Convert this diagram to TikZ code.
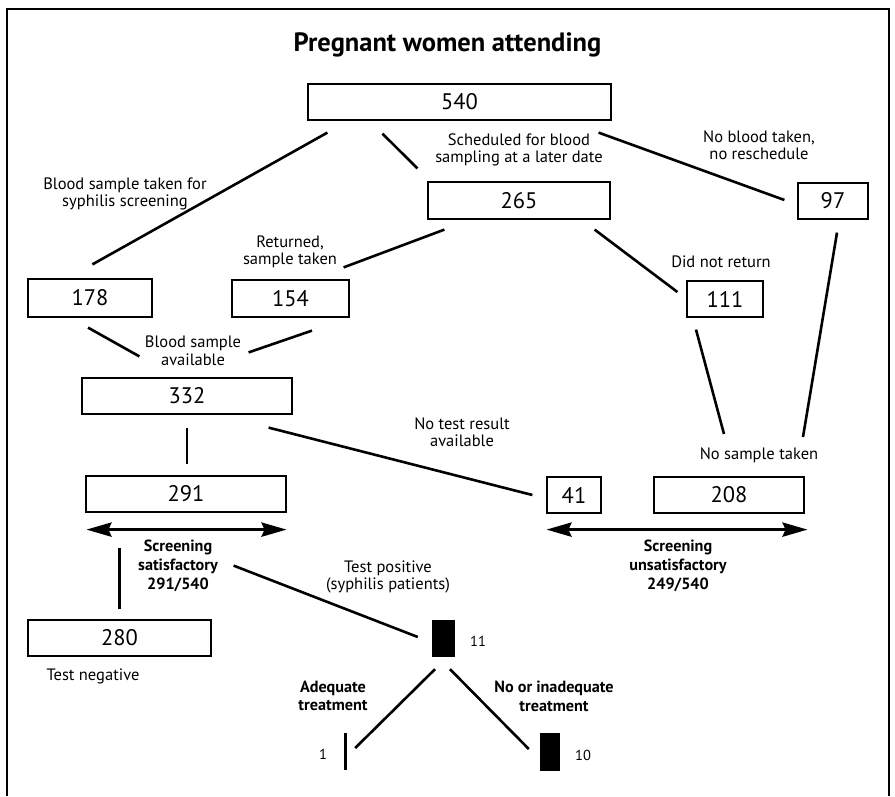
\documentclass[tikz,border=0pt]{standalone}
\usepackage{fontspec}
\setmainfont{PT Sans}
\usetikzlibrary{arrows.meta}
\begin{document}
\begin{tikzpicture}[x=1pt,y=-1pt,
  numbox/.style={draw, line width=1.2pt, inner sep=0pt, font={\fontsize{22.5}{24}\selectfont}},
  blk/.style={fill=black, draw=none, inner sep=0pt},
  lbl/.style={align=center, inner sep=0pt, font={\fontsize{16.5}{17.5}\selectfont}},
  blbl/.style={align=center, inner sep=0pt, font={\bfseries\fontsize{16.2}{18.7}\selectfont}},
  small/.style={inner sep=0pt, font={\fontsize{14.5}{16}\selectfont}},
  conn/.style={line width=2.6pt},
  dblarrow/.style={line width=3.6pt, {Stealth[length=25pt,width=14pt,inset=3pt]}-{Stealth[length=25pt,width=14pt,inset=3pt]}}
]
\useasboundingbox (0,0) rectangle (895,796);
% frame
\draw[line width=2.2pt] (7,796) -- (7,9) -- (889,9) -- (889,796);

% title
\node[inner sep=0pt, font={\bfseries\fontsize{26.5}{28}\selectfont}] (title) at (447.5,45) {Pregnant women attending};

% boxes
\node[numbox, minimum width=303pt, minimum height=36pt] (b540) at (459.5,102) {540};
\node[numbox, minimum width=182pt, minimum height=37pt] (b265) at (519,200.5) {265};
\node[numbox, minimum width=70pt, minimum height=36pt] (b97) at (833,201) {97};
\node[numbox, minimum width=124pt, minimum height=38pt] (b178) at (90,298) {178};
\node[numbox, minimum width=117pt, minimum height=37pt] (b154) at (290.5,298.5) {154};
\node[numbox, minimum width=76pt, minimum height=36pt] (b111) at (725,299) {111};
\node[numbox, minimum width=210pt, minimum height=36pt] (b332) at (187,396) {332};
\node[numbox, minimum width=200pt, minimum height=36pt] (b291) at (186,494) {291};
\node[numbox, minimum width=54pt, minimum height=36pt] (b41) at (574,495) {41};
\node[numbox, minimum width=150pt, minimum height=36pt] (b208) at (729,495) {208};
\node[numbox, minimum width=183pt, minimum height=36pt] (b280) at (119.5,638) {280};
\node[blk, minimum width=23pt, minimum height=37pt] (blk11) at (443.5,638.5) {};
\node[blk, minimum width=20pt, minimum height=38pt] (blk10) at (550,752) {};
\node[blk, minimum width=3pt, minimum height=37pt] (bar1) at (345,751.5) {};

% labels
\node[lbl] (lsyph) at (125,194) {Blood sample taken for\\syphilis screening};
\node[lbl] (lsched) at (519,150) {Scheduled for blood\\sampling at a later date};
\node[lbl] (lnoblood) at (759,145) {No blood taken,\\no reschedule};
\node[lbl] (lret) at (290,252) {Returned,\\sample taken};
\node[lbl] (ldid) at (721,262) {Did not return};
\node[lbl] (lavail) at (193,351) {Blood sample\\available};
\node[lbl] (lnotest) at (462,432) {No test result\\available};
\node[lbl] (lnosample) at (759,455) {No sample taken};
\node[blbl] (lsat) at (178,566) {Screening\\satisfactory\\291/540};
\node[blbl] (lunsat) at (678,566) {Screening\\unsatisfactory\\249/540};
\node[lbl] (lpos) at (388,577) {Test positive\\(syphilis patients)};
\node[lbl] (lneg) at (93,676) {Test negative};
\node[blbl] (ladeq) at (333,696) {Adequate\\treatment};
\node[blbl] (linadeq) at (554,696) {No or inadequate\\treatment};
\node[small] (n11) at (478,641) {11};
\node[small] (n1) at (323,754) {1};
\node[small] (n10) at (583,755) {10};

% connectors
\draw[conn] ([shift={(20,12)}]b540.south west) -- ([shift={(65,-14)}]b178.north west);
\draw[conn] ([shift={(75,13)}]b540.south west) -- ([shift={(-10,-13)}]b265.north west);
\draw[conn] ([shift={(-13,12)}]b540.south east) -- ([shift={(-13,-1)}]b97.west);
\draw[conn] ([shift={(17,10)}]b265.south west) -- ([shift={(-6,-12)}]b154.north east);
\draw[conn] ([shift={(-16,10)}]b265.south east) -- ([shift={(-9,-7)}]b111.west);
\draw[conn] ([shift={(4,13)}]b97.south) -- ([shift={(44,-18)}]lnosample.center);
\draw[conn] ([shift={(-29,12)}]b111.south) -- ([shift={(-35,-21)}]lnosample.center);
\draw[conn] ([shift={(-2,10)}]b178.south) -- ([shift={(58,-21)}]b332.north west);
\draw[conn] ([shift={(21.5,13)}]b154.south) -- ([shift={(-44,-25)}]b332.north east);
\draw[conn] ([shift={(0,13)}]b332.south) -- ([shift={(1,-11)}]b291.north);
\draw[conn] ([shift={(-24,13)}]b332.south east) -- ([shift={(-14,0)}]b41.west);
\draw[conn] ([shift={(0,-71)}]b280.north) -- ([shift={(0,-10)}]b280.north);
\draw[conn] ([shift={(-53,53)}]b291.south east) -- ([shift={(-14,-1.5)}]blk11.west);
\draw[conn] ([shift={(-8.5,12)}]blk11.south) -- ([shift={(8.5,-3.5)}]bar1.east);
\draw[conn] ([shift={(6.5,12)}]blk11.south) -- ([shift={(-11,-3)}]blk10.west);

% double arrows
\draw[dblarrow] ([shift={(1,17)}]b291.south west) -- ([shift={(0,17)}]b291.south east);
\draw[dblarrow] ([shift={(0,16)}]b41.south west) -- ([shift={(3,16)}]b208.south east);
\end{tikzpicture}
\end{document}
